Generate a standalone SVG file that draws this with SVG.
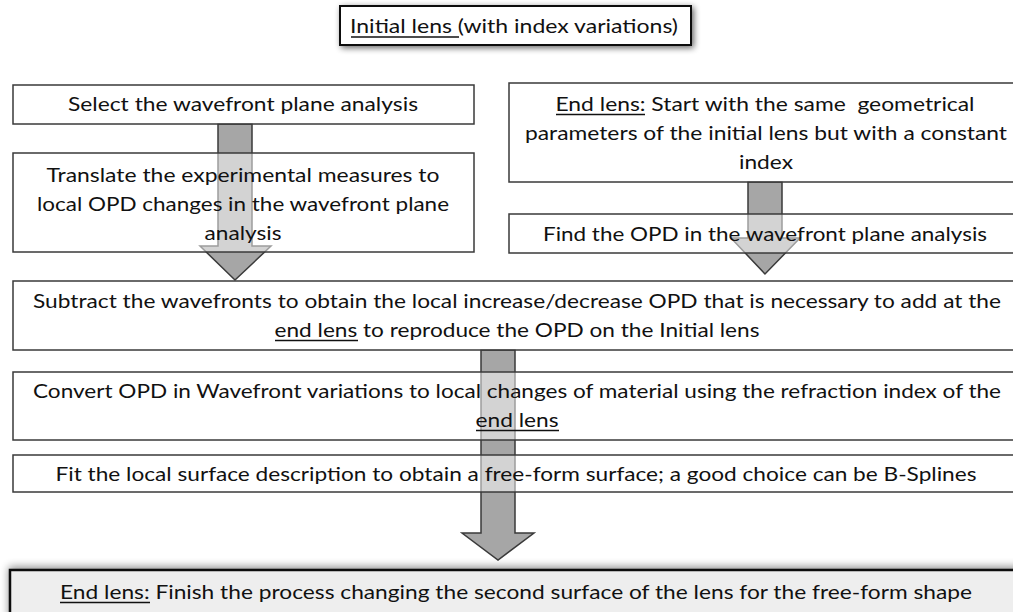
<svg xmlns="http://www.w3.org/2000/svg" width="1013" height="612" viewBox="0 0 1013 612">
<defs>
<style>
.box{fill:#ffffff;fill-opacity:0.5;stroke:#3a3a3a;stroke-width:1.5}
.t{font-family:Lato,"Open Sans","Liberation Sans",sans-serif;font-size:20px;fill:#111111;text-anchor:middle}
.ul{stroke:#111111;stroke-width:1.3}
.arr{fill:#a6a6a6;stroke:#3a3a3a;stroke-width:1.5;stroke-linejoin:miter}
</style>
<filter id="sh" x="-10%" y="-40%" width="120%" height="180%">
<feGaussianBlur in="SourceAlpha" stdDeviation="3"/>
<feOffset dx="2" dy="2" result="b"/>
<feComponentTransfer><feFuncA type="linear" slope="0.6"/></feComponentTransfer>
<feMerge><feMergeNode/><feMergeNode in="SourceGraphic"/></feMerge>
</filter>
<filter id="sh2" x="-5%" y="-60%" width="110%" height="200%">
<feGaussianBlur in="SourceAlpha" stdDeviation="4"/>
<feOffset dx="0" dy="-2" result="b"/>
<feComponentTransfer><feFuncA type="linear" slope="0.45"/></feComponentTransfer>
<feMerge><feMergeNode/><feMergeNode in="SourceGraphic"/></feMerge>
</filter>
</defs>
<rect width="1013" height="612" fill="#ffffff"/>

<g id="connectors">
<polygon class="arr" points="218,124 252,124 252,246 271,246 235,280 200,246 218,246"/>
<polygon class="arr" points="748,182 782,182 782,238 800,238 765,274 731,238 748,238"/>
<polygon class="arr" points="481,350 515,350 515,533 534,533 498,560 462,533 481,533"/>
</g>

<g id="initial-lens">
<rect x="340" y="6" width="351" height="39" fill="#ffffff" stroke="#111111" stroke-width="2" filter="url(#sh)"/>
<text class="t" x="514" y="33" textLength="328" lengthAdjust="spacingAndGlyphs">Initial lens (with index variations)</text>
<line class="ul" x1="351" y1="37" x2="459" y2="37"/>
</g>

<g id="select-plane">
<rect class="box" x="13" y="85" width="461" height="39"/>
<text class="t" x="243" y="111" textLength="350" lengthAdjust="spacingAndGlyphs">Select the wavefront plane analysis</text>
</g>

<g id="translate">
<rect class="box" x="13" y="153" width="461" height="99"/>
<text class="t" x="243" y="182" textLength="393" lengthAdjust="spacingAndGlyphs">Translate the experimental measures to</text>
<text class="t" x="243" y="211" textLength="412" lengthAdjust="spacingAndGlyphs">local OPD changes in the wavefront plane</text>
<text class="t" x="243" y="240" textLength="77" lengthAdjust="spacingAndGlyphs">analysis</text>
</g>

<g id="end-lens-start">
<rect class="box" x="509" y="83" width="510" height="99"/>
<text class="t" x="765" y="111" textLength="419" lengthAdjust="spacingAndGlyphs" xml:space="preserve">End lens: Start with the same  geometrical</text>
<line class="ul" x1="556" y1="114.5" x2="645" y2="114.5"/>
<text class="t" x="766" y="140" textLength="482" lengthAdjust="spacingAndGlyphs">parameters of the initial lens but with a constant</text>
<text class="t" x="766" y="169" textLength="54" lengthAdjust="spacingAndGlyphs">index</text>
</g>

<g id="find-opd">
<rect class="box" x="509" y="214" width="510" height="39"/>
<text class="t" x="765" y="241" textLength="444" lengthAdjust="spacingAndGlyphs">Find the OPD in the wavefront plane analysis</text>
</g>

<g id="subtract">
<rect class="box" x="13" y="281" width="1006" height="69"/>
<text class="t" x="517" y="308" textLength="968" lengthAdjust="spacingAndGlyphs">Subtract the wavefronts to obtain the local increase/decrease OPD that is necessary to add at the</text>
<text class="t" x="517" y="337" textLength="485" lengthAdjust="spacingAndGlyphs">end lens to reproduce the OPD on the Initial lens</text>
<line class="ul" x1="275" y1="340.5" x2="358" y2="340.5"/>
</g>

<g id="convert">
<rect class="box" x="13" y="372" width="1006" height="68"/>
<text class="t" x="517" y="398" textLength="968" lengthAdjust="spacingAndGlyphs">Convert OPD in Wavefront variations to local changes of material using the refraction index of the</text>
<text class="t" x="517" y="427" textLength="83" lengthAdjust="spacingAndGlyphs">end lens</text>
<line class="ul" x1="476" y1="430.5" x2="559" y2="430.5"/>
</g>

<g id="fit">
<rect class="box" x="13" y="455" width="1006" height="37"/>
<text class="t" x="516" y="481" textLength="921" lengthAdjust="spacingAndGlyphs">Fit the local surface description to obtain a free-form surface; a good choice can be B-Splines</text>
</g>

<g id="end-lens-finish">
<rect x="10" y="570" width="1010" height="50" fill="#eeeeee" stroke="#111111" stroke-width="2.5" filter="url(#sh2)"/>
<text class="t" x="516" y="599" textLength="912" lengthAdjust="spacingAndGlyphs">End lens: Finish the process changing the second surface of the lens for the free-form shape</text>
<line class="ul" x1="60" y1="602.5" x2="150" y2="602.5"/>
</g>
</svg>
